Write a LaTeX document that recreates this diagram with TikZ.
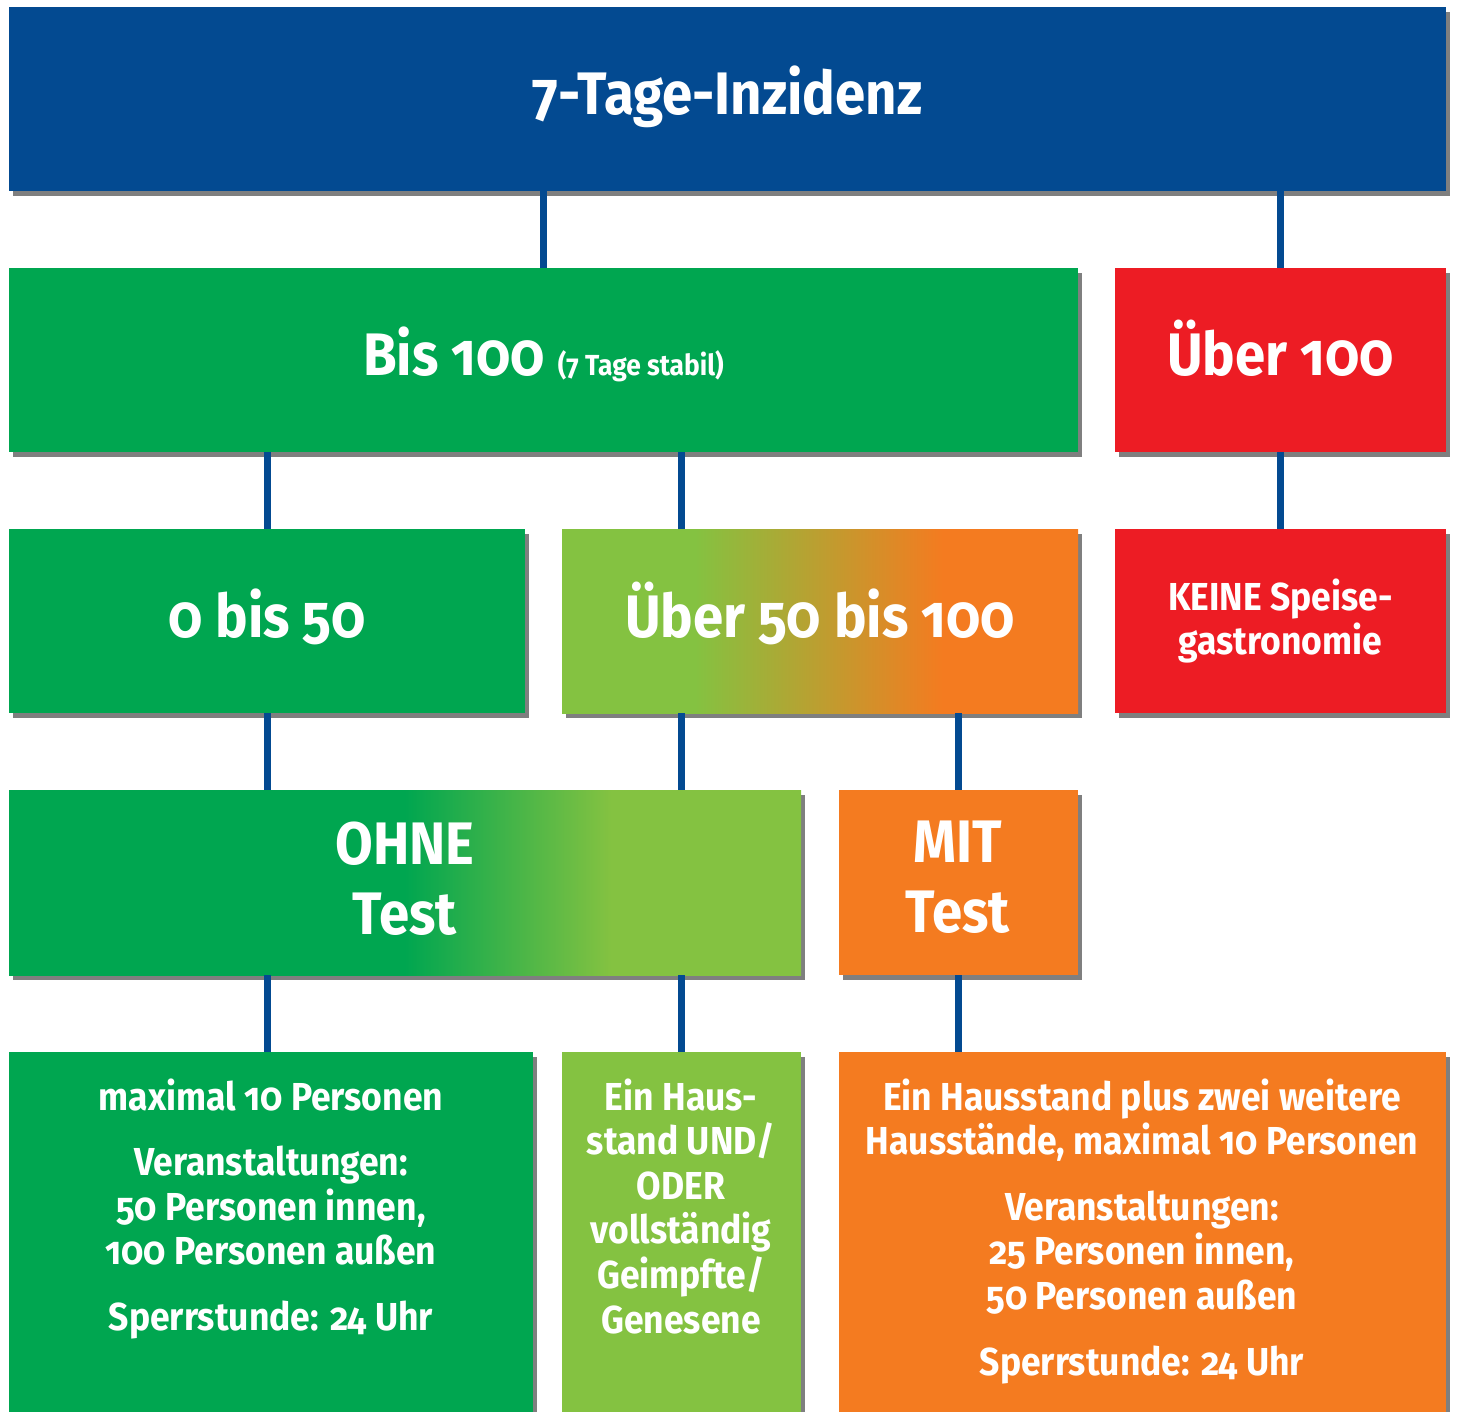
\documentclass[tikz,border=0pt]{standalone}
\usepackage{fontspec}
\setmainfont{Fira Sans}[Numbers=OldStyle, FakeStretch=0.91]
\usetikzlibrary{shadows}
\definecolor{cblue}{RGB}{3,74,145}
\definecolor{cgreen}{RGB}{0,166,80}
\definecolor{clgreen}{RGB}{132,194,65}
\definecolor{cred}{RGB}{237,28,36}
\definecolor{corange}{RGB}{244,123,32}
\pgfdeclarehorizontalshading{ohneshade}{100bp}{color(0bp)=(cgreen); color(50bp)=(cgreen); color(63bp)=(clgreen); color(100bp)=(clgreen)}
\pgfdeclarehorizontalshading{midshade}{100bp}{color(0bp)=(clgreen); color(37.9bp)=(clgreen); color(61.9bp)=(corange); color(100bp)=(corange)}
\def\pxu{0.5pt}
\tikzset{
  box/.style={anchor=north west, inner sep=0pt, outer sep=0pt, text=white, align=center,
    drop shadow={shadow xshift=2.2pt, shadow yshift=-2.5pt, opacity=0.5, fill=black}},
  big/.style={font=\bfseries\fontsize{30}{35}\selectfont},
  oneline/.style={text height=21pt, text depth=5pt},
  small/.style={font=\bfseries\fontsize{19.5}{22.3}\selectfont},
  txt/.style={anchor=north, text=white, align=center, inner sep=0pt},
  conn/.style={draw=cblue, line width=3.5pt},
}
\begin{document}
\begin{tikzpicture}[x=0.5pt, y=-0.5pt]
\useasboundingbox (0,0) rectangle (1459,1411);
% boxes
\node[box, big, oneline, fill=cblue, minimum width=1437*\pxu, minimum height=184*\pxu] (title) at (9,7) {7-Tage-Inzidenz};
\node[box, big, oneline, fill=cgreen, minimum width=1069*\pxu, minimum height=184*\pxu] (bis) at (9,268) {Bis 100 {\fontsize{14.5}{17}\selectfont (7 Tage stabil)}};
\node[box, big, oneline, fill=cred, minimum width=331*\pxu, minimum height=184*\pxu] (ueber) at (1115,268) {Über 100};
\node[box, big, oneline, fill=cgreen, minimum width=516*\pxu, minimum height=184*\pxu] (low) at (9,529) {0 bis 50};
\node[box, big, oneline, shading=midshade, shade, minimum width=516*\pxu, minimum height=184*\pxu] (mid) at (562,529) {Über 50 bis 100};
\node[box, small, fill=cred, minimum width=331*\pxu, minimum height=184*\pxu] (keine) at (1115,529) {KEINE Speise-\\gastronomie};
\node[box, shading=ohneshade, shade, minimum width=792*\pxu, minimum height=185*\pxu] (ohne) at (9,790) {};
\node[box, fill=corange, minimum width=239*\pxu, minimum height=185*\pxu] (mit) at (839,790) {};
\node[box, fill=cgreen, minimum width=524*\pxu, minimum height=380*\pxu] (b1) at (9,1052) {};
\node[box, fill=clgreen, minimum width=239*\pxu, minimum height=380*\pxu] (b2) at (562,1052) {};
\node[box, fill=corange, minimum width=607*\pxu, minimum height=380*\pxu] (b3) at (839,1052) {};
% texts of the two-line and bottom boxes
\node[txt, big] (tohne) at (405,821) {OHNE\\Test};
\node[txt, big] (tmit) at (958,821) {MIT\\Test};
\node[txt, small] (t1) at (271,1078) {maximal 10 Personen\\[10.5pt]Veranstaltungen:\\50 Personen innen,\\100 Personen außen\\[10.5pt]Sperrstunde: 24 Uhr};
\node[txt, small] (t2) at (681,1078) {Ein Haus-\\stand UND/\\ODER\\vollständig\\Geimpfte/\\Genesene};
\node[txt, small] (t3) at (1142,1078) {Ein Hausstand plus zwei weitere\\Hausstände, maximal 10 Personen\\[10.5pt]Veranstaltungen:\\25 Personen innen,\\50 Personen außen\\[10.5pt]Sperrstunde: 24 Uhr};
% connector columns
\coordinate (xa) at (543,0);
\coordinate (xb) at (1280,0);
\coordinate (xc) at (267,0);
\coordinate (xd) at (681,0);
\coordinate (xe) at (958,0);
\draw[conn] (title.south -| xa) -- (bis.north -| xa);
\draw[conn] (title.south -| xb) -- (ueber.north -| xb);
\draw[conn] (bis.south -| xc) -- (low.north -| xc);
\draw[conn] (bis.south -| xd) -- (mid.north -| xd);
\draw[conn] (ueber.south -| xb) -- (keine.north -| xb);
\draw[conn] (low.south -| xc) -- (ohne.north -| xc);
\draw[conn] (mid.south -| xd) -- (ohne.north -| xd);
\draw[conn] (mid.south -| xe) -- (mit.north -| xe);
\draw[conn] (ohne.south -| xc) -- (b1.north -| xc);
\draw[conn] (ohne.south -| xd) -- (b2.north -| xd);
\draw[conn] (mit.south -| xe) -- (b3.north -| xe);
\end{tikzpicture}
\end{document}
